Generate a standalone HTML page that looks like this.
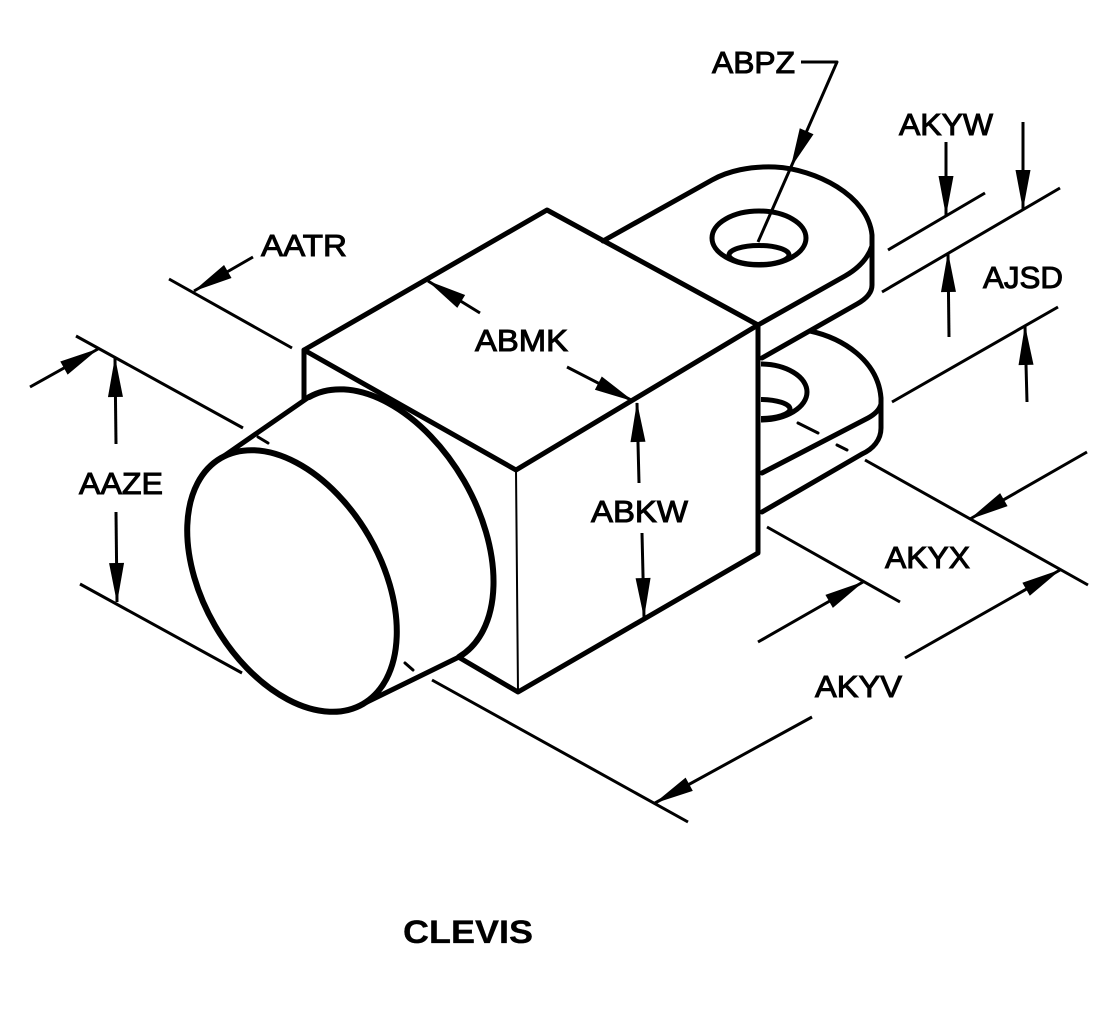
<!DOCTYPE html>
<html>
<head>
<meta charset="utf-8">
<style>
  html,body{margin:0;padding:0;background:#fff;}
  svg{display:block;}
  text{font-family:"Liberation Sans", Arial, sans-serif;font-size:31px;fill:#000;stroke:#000;stroke-width:1px;}
</style>
</head>
<body>
<svg width="1104" height="1027" viewBox="0 0 1104 1027" xmlns="http://www.w3.org/2000/svg">
  <defs>
    <marker id="ah" markerUnits="userSpaceOnUse" markerWidth="60" markerHeight="30" refX="0" refY="0" orient="auto" style="overflow:visible">
      <path d="M1,0 L-39,-7.5 L-39,7.5 Z" fill="#000" stroke="none"/>
    </marker>
    <clipPath id="cr"><rect x="761" y="300" width="200" height="200"/></clipPath>
  </defs>

  <rect x="0" y="0" width="1104" height="1027" fill="#fff"/>

  <g fill="none" stroke="#000" stroke-linecap="round" stroke-linejoin="round">
    <!-- Main block -->
    <path d="M304,399 L304,350 L547,210 L758,325 L758,553 L518,692 L460,658" stroke-width="5"/>
    <path d="M304,350 L516,470 L758,325" stroke-width="5"/>
    <path d="M516,470 L518,692" stroke-width="2"/>

    <!-- Cylinder -->
    <ellipse cx="292" cy="581" rx="142" ry="89" transform="rotate(60 292 581)" stroke-width="6"/>
    <path d="M309,397.1 A150,93 60 0 1 459,656.9" stroke-width="6"/>
    <path d="M221,458 L309,397" stroke-width="5"/>
    <path d="M363,704 L459,657" stroke-width="5"/>

    <!-- Upper lug -->
    <path d="M603,241 L712,180 C728,171 750,166 775,167 C815,169 868,195 872,235 L872,285 C872,293 866,299 857,304 L762,358" stroke-width="5"/>
    <path d="M758,325 L845,276 Q866,264 872,246" stroke-width="5"/>
    <ellipse cx="759" cy="238" rx="47" ry="27" stroke-width="5"/>
    <ellipse cx="759" cy="255" rx="30" ry="9.5" stroke-width="5"/>

    <!-- Lower lug -->
    <path d="M810,331 C842,338 878,360 881,398 L881,428 C881,440 873,449 862,454 L762,512" stroke-width="5"/>
    <path d="M762,473 L868,418 Q879,412 881,404" stroke-width="5"/>
    <g clip-path="url(#cr)">
      <ellipse cx="760" cy="392" rx="47" ry="28" stroke-width="5"/>
      <ellipse cx="760" cy="409" rx="30" ry="9.5" stroke-width="5"/>
    </g>

    <!-- Hidden line dashes -->
    <path d="M798,423 L818,433" stroke-width="3"/>
    <path d="M837,445 L847,450" stroke-width="3"/>
    <path d="M258,437 L268,443" stroke-width="3"/>
    <path d="M405,663 L413,670" stroke-width="3"/>

    <!-- Extension lines -->
    <g stroke-width="3" stroke-linecap="butt">
      <path d="M169,279 L292,348"/>
      <path d="M76,336 L243,428"/>
      <path d="M80,584 L242,673"/>
      <path d="M888,250 L985,193"/>
      <path d="M882,292 L1060,188"/>
      <path d="M892,402 L1058,307"/>
      <path d="M865,460 L1088,585"/>
      <path d="M767,527 L900,602"/>
      <path d="M432,680 L688,822"/>
    </g>

    <!-- Dimension arrows -->
    <g stroke-width="3" stroke-linecap="butt">
      <path d="M801,62 L837,62 L791,167" marker-end="url(#ah)"/>
      <path d="M791,167 L758,242"/>
      <path d="M946,142 L946,215" marker-end="url(#ah)"/>
      <path d="M1023,122 L1023,209" marker-end="url(#ah)"/>
      <path d="M949,337 L948,253" marker-end="url(#ah)"/>
      <path d="M1027,402 L1025,326" marker-end="url(#ah)"/>
      <path d="M253,257 L194,291" marker-end="url(#ah)"/>
      <path d="M30,387 L98,349" marker-end="url(#ah)"/>
      <path d="M480,313 L428,281" marker-end="url(#ah)"/>
      <path d="M567,367 L633,401" marker-end="url(#ah)"/>
      <path d="M639,483 L637,403" marker-end="url(#ah)"/>
      <path d="M642,533 L644,617" marker-end="url(#ah)"/>
      <path d="M116,444 L115,358" marker-end="url(#ah)"/>
      <path d="M116,512 L117,602" marker-end="url(#ah)"/>
      <path d="M1087,452 L970,519" marker-end="url(#ah)"/>
      <path d="M758,642 L863,582" marker-end="url(#ah)"/>
      <path d="M905,658 L1060,570" marker-end="url(#ah)"/>
      <path d="M812,717 L655,803" marker-end="url(#ah)"/>
    </g>
  </g>

  <!-- Labels -->
  <text x="712" y="73" textLength="83" lengthAdjust="spacingAndGlyphs">ABPZ</text>
  <text x="899" y="135" textLength="94" lengthAdjust="spacingAndGlyphs">AKYW</text>
  <text x="261" y="256" textLength="86" lengthAdjust="spacingAndGlyphs">AATR</text>
  <text x="983" y="288" textLength="80" lengthAdjust="spacingAndGlyphs">AJSD</text>
  <text x="475" y="351" textLength="93" lengthAdjust="spacingAndGlyphs">ABMK</text>
  <text x="79" y="494" textLength="84" lengthAdjust="spacingAndGlyphs">AAZE</text>
  <text x="591" y="522" textLength="97" lengthAdjust="spacingAndGlyphs">ABKW</text>
  <text x="885" y="568" textLength="85" lengthAdjust="spacingAndGlyphs">AKYX</text>
  <text x="815" y="697" textLength="87" lengthAdjust="spacingAndGlyphs">AKYV</text>
  <text x="403" y="943" textLength="130" lengthAdjust="spacingAndGlyphs" style="font-weight:bold;font-size:32px;stroke-width:0.3px">CLEVIS</text>
</svg>
</body>
</html>
